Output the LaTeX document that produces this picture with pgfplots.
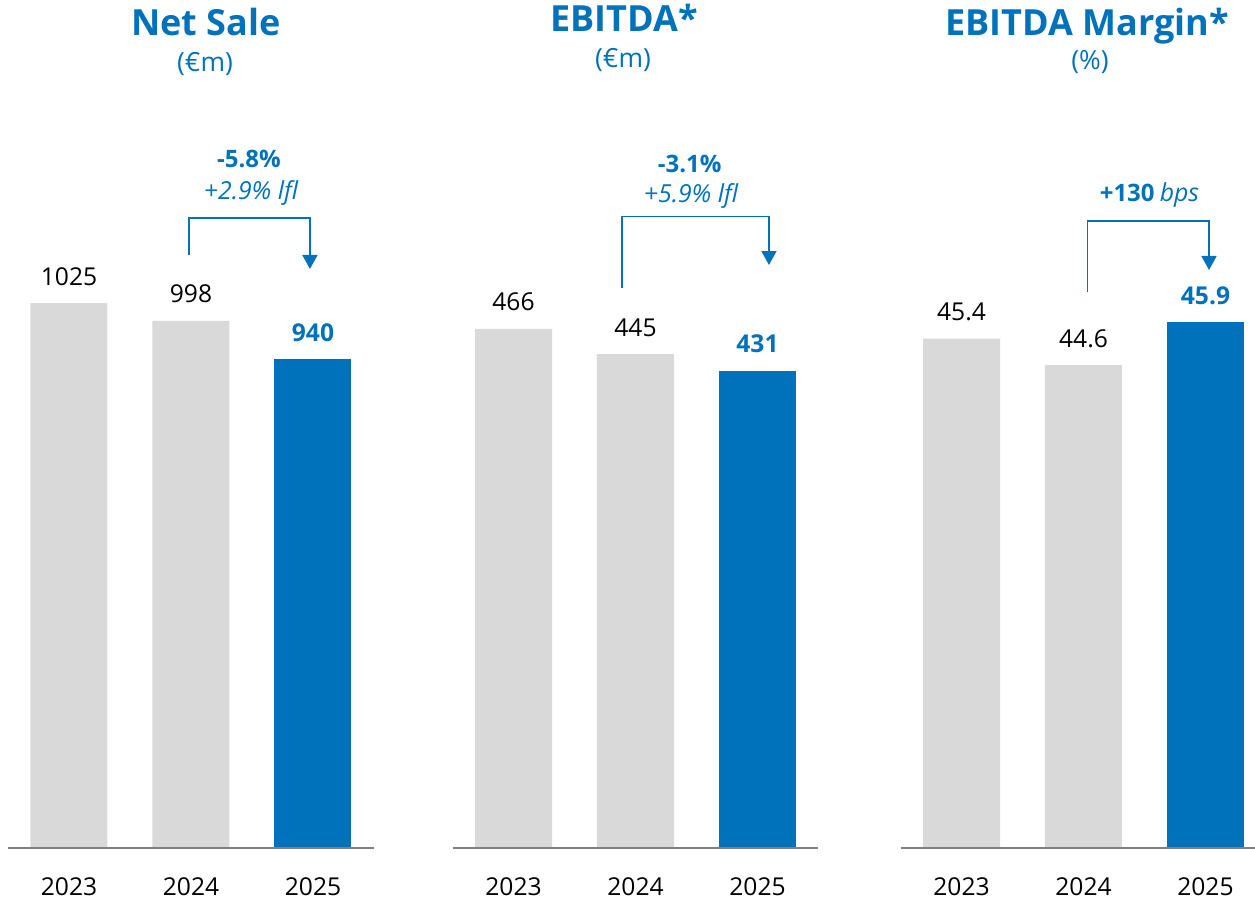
\documentclass[border=0pt]{standalone}
\usepackage{fontspec}
\setmainfont{Open Sans}
\usepackage{pgfplots}
\pgfplotsset{compat=1.18}
\usetikzlibrary{arrows.meta}
\definecolor{eblue}{RGB}{0,114,188}
\definecolor{egray}{RGB}{217,217,217}
\definecolor{eaxis}{RGB}{128,128,128}
\newcommand\vfont{\fontsize{12.3}{14}\selectfont}
\newcommand\sfont{\fontsize{13.2}{15}\selectfont}
\newcommand\afont{\fontsize{12}{14}\selectfont}
\newcommand\ifont{\fontsize{12.4}{14}\selectfont}
\newcommand\tfont{\fontsize{18}{21}\selectfont}
\pgfplotsset{
  panel/.style={
    scale only axis, height=374pt,
    axis x line=bottom, axis y line=none,
    axis line style={eaxis, line width=1.1pt, -},
    axis on top,
    xtick={0,1,2}, xticklabels={2023,2024,2025},
    major tick length=0pt,
    xticklabel style={anchor=base, yshift=-23.5pt, inner sep=0pt, font=\vfont, text=black},
    ytick=\empty,
    ybar, bar width=38.5pt, bar shift=0pt,
    xmin=-0.5,
    point meta=explicit symbolic,
    nodes near coords,
    every node near coord/.append style={anchor=base, yshift=9pt, inner sep=0pt, font=\vfont},
  }
}
\begin{document}
\begin{tikzpicture}
\path[use as bounding box] (0,0) rectangle (627.5pt,451pt);

% Net Sale
\begin{axis}[panel, anchor=south west, at={(4pt,27pt)}, width=183pt, xmax=2.5, ymin=200, ymax=1332.3]
\addplot[fill=egray, draw=none, nodes near coords style={text=black}] coordinates {(0,1025) [1025] (1,998) [998]};
\addplot[fill=eblue, draw=none, nodes near coords style={text=eblue, font=\vfont\bfseries}] coordinates {(2,940) [940]};
\draw[eblue, line width=0.85pt, -{Triangle[width=7.5pt,length=7pt]}] (axis cs:0.984,1097.7) |- (axis cs:1.975,1153.7) -- (axis cs:1.975,1076.5);
\node[anchor=base, text=eblue, font=\afont\bfseries, inner sep=0pt] at (axis cs:1.475,1229.4) {-5.8\%};
\node[anchor=base, text=eblue, font=\ifont\itshape, inner sep=0pt] at (axis cs:1.492,1182.4) {+2.9\% lfl};
\end{axis}

% EBITDA
\begin{axis}[panel, anchor=south west, at={(226.25pt,27pt)}, width=183pt, xmax=2.5, ymin=33.5, ymax=656.8]
\addplot[fill=egray, draw=none, nodes near coords style={text=black}] coordinates {(0,466) [466] (1,445) [445]};
\addplot[fill=eblue, draw=none, nodes near coords style={text=eblue, font=\vfont\bfseries}] coordinates {(2,431) [431]};
\draw[eblue, line width=0.85pt, -{Triangle[width=7.5pt,length=7pt]}] (axis cs:0.887,500.4) |- (axis cs:2.094,559.6) -- (axis cs:2.094,519.3);
\node[anchor=base, text=eblue, font=\afont\bfseries, inner sep=0pt] at (axis cs:1.444,596) {-3.1\%};
\node[anchor=base, text=eblue, font=\ifont\itshape, inner sep=0pt] at (axis cs:1.455,571) {+5.9\% lfl};
\end{axis}

% EBITDA Margin
\begin{axis}[panel, anchor=south west, at={(450.25pt,27pt)}, width=177.25pt, xmax=2.406, ymin=30, ymax=52.612]
\addplot[fill=egray, draw=none, nodes near coords style={text=black}] coordinates {(0,45.4) [45.4] (1,44.6) [44.6]};
\addplot[fill=eblue, draw=none, nodes near coords style={text=eblue, font=\vfont\bfseries}] coordinates {(2,45.9) [45.9]};
\draw[eblue, line width=0.85pt, -{Triangle[width=7.5pt,length=7pt]}] (axis cs:1.034,46.808) |- (axis cs:2.029,48.963) -- (axis cs:2.029,47.473);
\node[anchor=base, text=eblue, inner sep=0pt] at (axis cs:1.541,49.538) {{\afont\bfseries +130} {\ifont\itshape bps}};
\end{axis}

% Titles (pixel grid: x right, y down from top)
\begin{scope}[x=0.5pt, y=-0.5pt, shift={(0pt,451pt)}]
\node[anchor=base, text=eblue, font=\tfont\bfseries, inner sep=0pt] at (206,36) {Net Sale};
\node[anchor=base, text=eblue, font=\sfont, inner sep=0pt] at (205,72) {(€m)};
\node[anchor=base, text=eblue, font=\tfont\bfseries, inner sep=0pt] at (624,32) {EBITDA*};
\node[anchor=base, text=eblue, font=\sfont, inner sep=0pt] at (623,68) {(€m)};
\node[anchor=base, text=eblue, font=\tfont\bfseries, inner sep=0pt] at (1087,36) {EBITDA Margin*};
\node[anchor=base, text=eblue, font=\sfont, inner sep=0pt] at (1090,70) {(\%)};
\end{scope}
\end{tikzpicture}
\end{document}
